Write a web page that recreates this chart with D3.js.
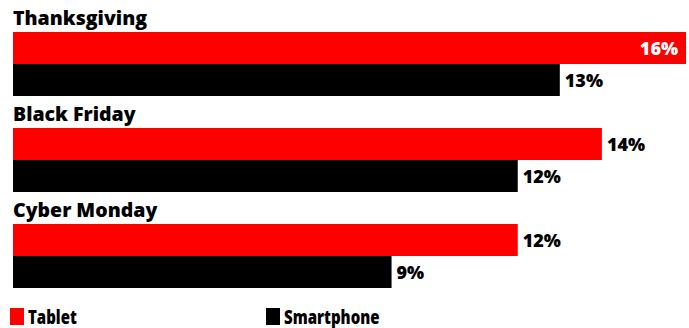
<!DOCTYPE html>
<html><head><meta charset="utf-8">
<script src="https://cdn.jsdelivr.net/npm/d3@7"></script>
<style>body{margin:0;background:#fff}</style>
</head><body><svg id="c" width="689" height="328"></svg>
<script>
const categories = ["Thanksgiving", "Black Friday", "Cyber Monday"];
const seriesNames = ["Tablet", "Smartphone"];
const tablet = [16, 14, 12];
const smartphone = [13, 12, 9];
const colors = ["#ff0000", "#000000"];

const svg = d3.select("#c");
const x = d3.scaleLinear().domain([0, 16]).range([13, 686]);
const yGroup = d3.scaleBand().domain(categories).range([0, 288]);
const ySub = d3.scaleBand().domain(seriesNames).range([32, 96]);
const font = "'Open Sans', sans-serif";

const g = svg.selectAll("g.cat").data(categories).join("g").attr("class","cat")
  .attr("transform", d => `translate(0,${yGroup(d)})`);
g.append("text").attr("x", 13).attr("y", 25).text(d => d)
  .attr("font-family", font).attr("font-weight", 800).attr("font-size", 19.5).attr("fill", "#000");

const rows = [];
categories.forEach((c, i) => {
  rows.push({cat: c, s: "Tablet", v: tablet[i], col: colors[0]});
  rows.push({cat: c, s: "Smartphone", v: smartphone[i], col: colors[1]});
});
const maxV = d3.max(rows, r => r.v);
svg.selectAll("rect.bar").data(rows).join("rect").attr("class","bar")
  .attr("x", x(0)).attr("y", r => yGroup(r.cat) + ySub(r.s))
  .attr("width", r => x(r.v) - x(0)).attr("height", ySub.bandwidth())
  .attr("fill", r => r.col);
svg.selectAll("text.val").data(rows).join("text").attr("class","val")
  .attr("x", r => r.v === maxV ? x(r.v) - 8 : x(r.v) + 5)
  .attr("text-anchor", r => r.v === maxV ? "end" : "start")
  .attr("y", r => yGroup(r.cat) + ySub(r.s) + ySub.bandwidth()/2 + 6.5)
  .attr("fill", r => r.v === maxV ? "#fff" : "#000")
  .attr("font-family", font).attr("font-weight", 800).attr("font-size", 18)
  .text(r => r.v + "%");

const legX = [10, 266];
const leg = svg.selectAll("g.leg").data(seriesNames).join("g").attr("class","leg")
  .attr("transform", (d,i) => `translate(${legX[i]},308)`);
leg.append("rect").attr("width", 14).attr("height", 17).attr("fill", (d,i) => colors[i]);
leg.append("text").attr("transform", "translate(18,15.5) scale(0.79,1)").text(d => d)
  .attr("font-family", font).attr("font-weight", 800).attr("font-size", 19);
</script></body></html>
